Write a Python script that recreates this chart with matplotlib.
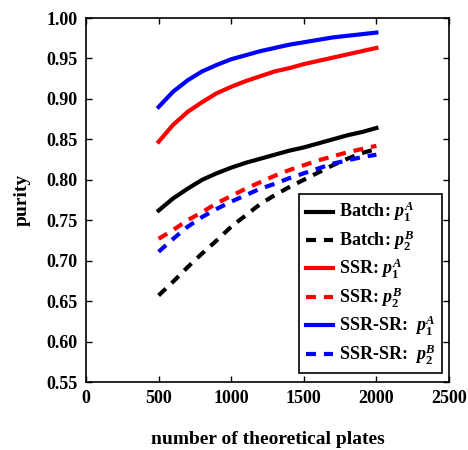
import matplotlib
matplotlib.use("Agg")
import matplotlib.pyplot as plt

plates = [500, 600, 700, 800, 900, 1000, 1100, 1200, 1300, 1400, 1500, 1600, 1700, 1800, 1900, 2000]
batch_p1A = [0.762, 0.777, 0.789, 0.800, 0.808, 0.815, 0.821, 0.826, 0.831, 0.836, 0.840, 0.845, 0.850, 0.855, 0.859, 0.864]
batch_p2B = [0.657, 0.674, 0.692, 0.709, 0.725, 0.742, 0.756, 0.770, 0.781, 0.791, 0.800, 0.809, 0.818, 0.826, 0.833, 0.838]
ssr_p1A = [0.847, 0.868, 0.884, 0.896, 0.907, 0.915, 0.922, 0.928, 0.934, 0.938, 0.943, 0.947, 0.951, 0.955, 0.959, 0.963]
ssr_p2B = [0.727, 0.738, 0.750, 0.760, 0.771, 0.780, 0.789, 0.797, 0.805, 0.812, 0.818, 0.824, 0.829, 0.834, 0.838, 0.842]
ssrsr_p1A = [0.890, 0.909, 0.923, 0.934, 0.942, 0.949, 0.954, 0.959, 0.963, 0.967, 0.970, 0.973, 0.976, 0.978, 0.980, 0.982]
ssrsr_p2B = [0.711, 0.727, 0.742, 0.754, 0.764, 0.773, 0.781, 0.789, 0.795, 0.802, 0.808, 0.814, 0.820, 0.824, 0.828, 0.831]

xticks = [0, 500, 1000, 1500, 2000, 2500]
yticks = [0.55, 0.60, 0.65, 0.70, 0.75, 0.80, 0.85, 0.90, 0.95, 1.00]

plt.rcParams['font.family'] = ['Liberation Serif', 'DejaVu Serif']
plt.rcParams['font.weight'] = 'bold'
plt.rcParams['mathtext.fontset'] = 'custom'
plt.rcParams['mathtext.rm'] = 'Liberation Serif:bold'
plt.rcParams['mathtext.it'] = 'Liberation Serif:italic:bold'

fig = plt.figure(figsize=(4.68, 4.5), dpi=100)
ax = fig.add_axes([0.1838, 0.1511, 0.7756, 0.8089])

lw = 3
dash = (2.4, 1.9)
ax.plot(plates, batch_p1A, color='black', lw=lw, ls='-', label='Batch: $p_1^A$')
ax.plot(plates, batch_p2B, color='black', lw=lw, ls=(0, dash), label='Batch: $p_2^B$')
ax.plot(plates, ssr_p1A, color='red', lw=lw, ls='-', label='SSR: $p_1^A$')
ax.plot(plates, ssr_p2B, color='red', lw=lw, ls=(0, dash), label='SSR: $p_2^B$')
ax.plot(plates, ssrsr_p1A, color='blue', lw=lw, ls='-', label='SSR-SR:  $p_1^A$')
ax.plot(plates, ssrsr_p2B, color='blue', lw=lw, ls=(0, dash), label='SSR-SR:  $p_2^B$')

ax.set_xlim(0, 2500)
ax.set_ylim(0.55, 1.00)
ax.set_xticks(xticks)
ax.set_yticks(yticks)
ax.set_yticklabels([f'{v:.2f}' for v in yticks])
ax.tick_params(direction='in', top=True, right=True, labelsize=13, length=4, width=1, pad=6)
for s in ax.spines.values():
    s.set_linewidth(1.2)

ax.set_xlabel('number of theoretical plates', fontsize=14, fontweight='bold', labelpad=17)
ax.set_ylabel('purity', fontsize=14, fontweight='bold', labelpad=11)

leg = ax.legend(loc='lower right', bbox_to_anchor=(0.981, 0.025), borderaxespad=0,
                fontsize=13, frameon=True, fancybox=False, framealpha=1,
                edgecolor='black', handlelength=1.5, labelspacing=0.22,
                borderpad=0.35, handletextpad=0.35)
leg.get_frame().set_linewidth(1.2)

fig.savefig('out.png', dpi=100)
